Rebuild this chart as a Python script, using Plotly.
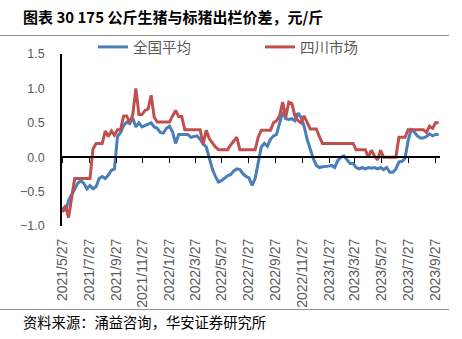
import pandas as pd
import plotly.graph_objects as go

# ---------------- data ----------------
start_date = "2021-05-27"
series_names = ["全国平均", "四川市场"]
national = [
    -0.73, -0.78, -0.63, -0.55, -0.45, -0.38, -0.34, -0.38, -0.46, -0.41,
    -0.46, -0.43, -0.31, -0.28, -0.31, -0.26, -0.19, -0.17, 0.30, 0.36,
    0.46, 0.51, 0.49, 0.57, 0.44, 0.50, 0.44, 0.46, 0.48, 0.50,
    0.44, 0.42, 0.36, 0.35, 0.42, 0.45, 0.37, 0.20, 0.33, 0.33,
    0.34, 0.33, 0.29, 0.30, 0.31, 0.26, 0.19, 0.15, 0.00, -0.17,
    -0.28, -0.36, -0.34, -0.30, -0.27, -0.25, -0.20, -0.17, -0.18, -0.24,
    -0.28, -0.30, -0.41, -0.31, -0.05, 0.15, 0.20, 0.16, 0.26, 0.31,
    0.33, 0.49, 0.66, 0.56, 0.55, 0.56, 0.53, 0.64, 0.58, 0.45,
    0.26, 0.12, -0.02, -0.12, -0.15, -0.14, -0.14, -0.13, -0.12, -0.15,
    -0.05, 0.00, 0.02, -0.04, -0.09, -0.09, -0.15, -0.17, -0.15, -0.17,
    -0.15, -0.16, -0.15, -0.17, -0.15, -0.18, -0.15, -0.22, -0.22, -0.17,
    -0.07, -0.06, -0.02, 0.24, 0.40, 0.37, 0.31, 0.28, 0.28, 0.30,
    0.34, 0.31, 0.33, 0.33,
]
sichuan = [
    -0.80, -0.70, -0.88, -0.60, -0.31, -0.31, -0.31, -0.31, -0.31, -0.31,
    0.12, 0.20, 0.20, 0.20, 0.38, 0.30, 0.38, 0.32, 0.40, 0.40,
    0.60, 0.60, 0.50, 0.62, 1.00, 0.62, 0.62, 0.68, 0.70, 0.90,
    0.58, 0.51, 0.51, 0.51, 0.51, 0.51, 0.60, 0.68, 0.59, 0.59,
    0.40, 0.40, 0.40, 0.40, 0.40, 0.40, 0.19, 0.39, 0.27, 0.21,
    0.15, 0.11, 0.11, 0.11, 0.11, 0.18, 0.24, 0.29, 0.11, 0.11,
    0.11, 0.11, 0.11, 0.11, 0.29, 0.39, 0.39, 0.39, 0.39, 0.50,
    0.53, 0.60, 0.80, 0.58, 0.80, 0.78, 0.60, 0.53, 0.50, 0.60,
    0.50, 0.41, 0.41, 0.41, 0.30, 0.20, 0.20, 0.20, 0.20, 0.20,
    0.20, 0.20, 0.20, 0.20, 0.20, 0.20, 0.11, 0.11, 0.11, 0.11,
    0.00, 0.10, 0.02, -0.04, 0.10, 0.00, 0.00, 0.00, 0.00, 0.00,
    0.29, 0.29, 0.29, 0.40, 0.40, 0.40, 0.40, 0.40, 0.40, 0.36,
    0.45, 0.42, 0.50, 0.50,
]
tick_dates = ["2021-05-27", "2021-07-27", "2021-09-27", "2021-11-27",
              "2022-01-27", "2022-03-27", "2022-05-27", "2022-07-27",
              "2022-09-27", "2022-11-27", "2023-01-27", "2023-03-27",
              "2023-05-27", "2023-07-27", "2023-09-27"]
tick_labels = ["2021/5/27", "2021/7/27", "2021/9/27", "2021/11/27",
               "2022/1/27", "2022/3/27", "2022/5/27", "2022/7/27",
               "2022/9/27", "2022/11/27", "2023/1/27", "2023/3/27",
               "2023/5/27", "2023/7/27", "2023/9/27"]
y_ticks = [-1.0, -0.5, 0.0, 0.5, 1.0, 1.5]

title_text = "图表 30 175 公斤生猪与标猪出栏价差，元/斤"
source_text = "资料来源：涌益咨询，华安证券研究所"

dates = pd.date_range(start_date, periods=len(national), freq="7D")

# ---------------- layout helpers ----------------
W, H = 462, 339
ML, MR, MT, MB = 62, 22, 54, 113
PW, PH = W - ML - MR, H - MT - MB


def px_x(px):
    return (px - ML) / PW


def px_y(py):
    return 1 - (py - MT) / PH


BLUE = "#4A7EBB"
RED = "#C0504D"
GREY = "#595959"
x_range = ["2021-05-26", "2023-10-08"]
y_range = [-1.0, 1.5]

fig = go.Figure()
fig.add_trace(go.Scatter(x=dates, y=national, name=series_names[0], mode="lines",
                         line=dict(color=BLUE, width=3), legend="legend"))
fig.add_trace(go.Scatter(x=dates, y=sichuan, name=series_names[1], mode="lines",
                         line=dict(color=RED, width=3), legend="legend2"))
# helper trace so the zero-crossing axis is drawn
fig.add_trace(go.Scatter(x=dates[:1], y=[0], xaxis="x2", mode="markers",
                         marker=dict(opacity=0), showlegend=False, hoverinfo="skip"))

zero_pos = (0 - y_range[0]) / (y_range[1] - y_range[0])

fig.update_layout(
    width=W, height=H,
    margin=dict(l=ML, r=MR, t=MT, b=MB, pad=0),
    paper_bgcolor="white", plot_bgcolor="white",
    font=dict(family="Liberation Sans, Arial, Noto Sans CJK SC", color=GREY),
    xaxis=dict(type="date", range=x_range, tickvals=tick_dates, ticktext=tick_labels,
               tickangle=-90, showgrid=False, showline=False, zeroline=False,
               ticks="", tickfont=dict(size=14, color=GREY), ticklabelstandoff=9),
    xaxis2=dict(type="date", range=x_range, overlaying="x", anchor="free",
                position=zero_pos, tickvals=tick_dates, showticklabels=False,
                showgrid=False, zeroline=False, showline=True, linecolor="black",
                linewidth=1.5, ticks="outside", ticklen=5, tickcolor="black",
                tickwidth=1),
    yaxis=dict(range=y_range, tickvals=y_ticks, tickformat=".1f", showgrid=False,
               zeroline=False, showline=True, linecolor="black", linewidth=1.5,
               ticks="", tickfont=dict(size=12.5, color=GREY), ticklabelstandoff=13),
    legend=dict(orientation="h", x=px_x(93), y=px_y(47), xanchor="left",
                yanchor="middle", font=dict(size=14.5, color=GREY,
                family="Noto Sans CJK SC"), bgcolor="rgba(0,0,0,0)"),
    legend2=dict(orientation="h", x=px_x(260), y=px_y(47), xanchor="left",
                 yanchor="middle", font=dict(size=14.5, color=GREY,
                 family="Noto Sans CJK SC"), bgcolor="rgba(0,0,0,0)"),
    showlegend=True,
)

fig.add_annotation(text=f"<b>{title_text}</b>", xref="paper", yref="paper",
                   x=px_x(21), y=px_y(16), xanchor="left", yanchor="middle",
                   showarrow=False, font=dict(size=15, color="black",
                   family="Noto Sans CJK SC"))
fig.add_annotation(text=source_text, xref="paper", yref="paper",
                   x=px_x(21), y=px_y(321), xanchor="left", yanchor="middle",
                   showarrow=False, font=dict(size=14.3, color="black",
                   family="Noto Sans CJK SC"))

for yy in (35.5, 309.5):
    fig.add_shape(type="line", xref="paper", yref="paper", x0=px_x(0), x1=px_x(449),
                  y0=px_y(yy), y1=px_y(yy), line=dict(color="#8c8c8c", width=1))

fig.write_html("out.html")
